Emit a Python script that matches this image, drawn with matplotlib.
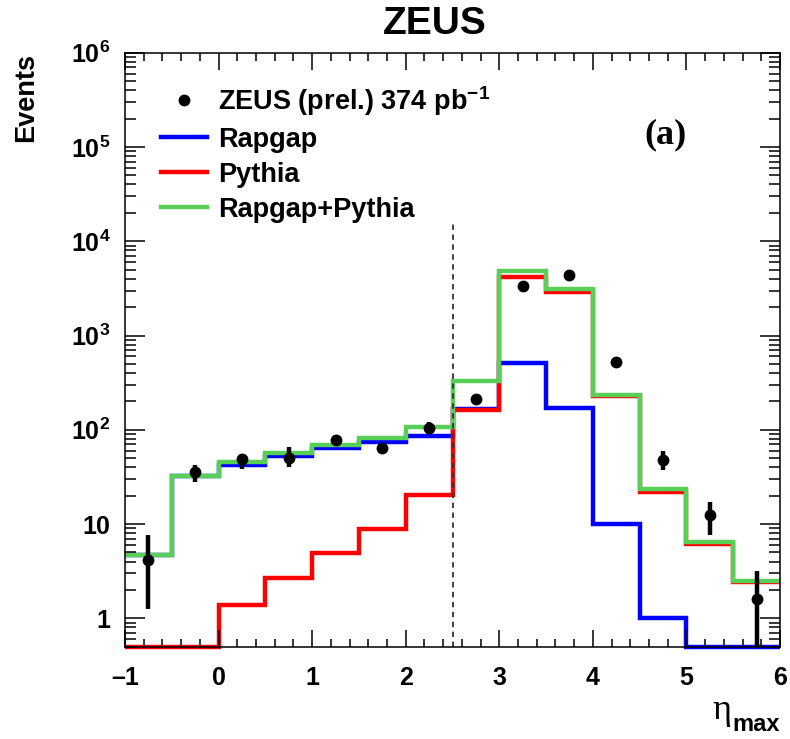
import numpy as np
import matplotlib
matplotlib.use("Agg")
import matplotlib.pyplot as plt
from matplotlib.lines import Line2D
from matplotlib.ticker import FixedLocator, LogLocator, FuncFormatter, NullFormatter

plt.rcParams['font.family'] = ['Liberation Sans', 'DejaVu Sans']
plt.rcParams['font.weight'] = 'bold'
plt.rcParams['mathtext.fontset'] = 'custom'
plt.rcParams['mathtext.rm'] = 'Liberation Sans:bold'
plt.rcParams['mathtext.it'] = 'Liberation Sans:bold'
plt.rcParams['mathtext.bf'] = 'Liberation Sans:bold'
plt.rcParams['mathtext.default'] = 'rm'

# eta_max binning
bin_edges = [-1.0, -0.5, 0.0, 0.5, 1.0, 1.5, 2.0, 2.5, 3.0, 3.5, 4.0, 4.5, 5.0, 5.5, 6.0]

# MC predictions (events per bin)
rapgap = [4.7, 32, 42.5, 53, 64, 75, 85, 168, 510, 170, 9.9, 1.0, 0, 0]
pythia = [0, 0, 1.4, 2.7, 4.95, 8.9, 20.4, 163, 4200, 2920, 226, 21.7, 6.1, 2.4]
rapgap_pythia = [4.7, 32, 45, 57, 69, 82, 107, 331, 4830, 3090, 236, 23.5, 6.5, 2.5]

# ZEUS data points with error bar ends
data_x = [-0.75, -0.25, 0.25, 0.75, 1.25, 1.75, 2.25, 2.75, 3.25, 3.75, 4.25, 4.75, 5.25, 5.75]
data_y = [4.2, 36, 48.8, 50, 78, 64, 104, 212, 3350, 4380, 525, 48, 12.5, 1.6]
data_hi = [7.6, 42.5, 55, 65, 88, 72, 122, 212, 3350, 4380, 525, 59, 17.3, 3.2]
data_lo = [1.27, 28, 38, 40.7, 70, 55, 90, 212, 3350, 4380, 525, 37.5, 7.6, 0]

eta_cut = 2.5
y_min, y_max = 0.5, 1e6

fig = plt.figure(figsize=(7.9, 7.39), dpi=100)
ax = fig.add_axes([125 / 790, 1 - 646.7 / 739, 655 / 790, 594 / 739])
ax.set_yscale('log')
ax.set_xlim(-1, 6)
ax.set_ylim(y_min, y_max)

# histograms, empty bins drawn on the lower frame
lw = 3.2
ax.stairs(np.maximum(rapgap, y_min), bin_edges, baseline=None, color='#0000ff', lw=lw, clip_on=False)
ax.stairs(np.maximum(pythia, y_min), bin_edges, baseline=None, color='#ff0000', lw=lw, clip_on=False)
ax.stairs(np.maximum(rapgap_pythia, y_min), bin_edges, baseline=None, color='#58d058', lw=lw, clip_on=False)

y = np.array(data_y)
lo = np.maximum(np.array(data_lo), 0.05)
hi = np.array(data_hi)
ax.errorbar(data_x, y, yerr=[y - lo, hi - y], fmt='o', color='black', ms=7.5, elinewidth=3.2, capsize=0,
            zorder=5)

ax.vlines(eta_cut, y_min, 1.6e4, colors='#333333', linestyles=(0, (3, 2.5)), lw=1.3)

# ticks in ROOT style
ax.xaxis.set_major_locator(FixedLocator(range(-1, 7)))
ax.xaxis.set_minor_locator(FixedLocator(np.arange(-1, 6.01, 0.2)))
ax.xaxis.set_major_formatter(FuncFormatter(lambda v, p: f"{int(v)}".replace('-', '\u2013')))
ax.yaxis.set_major_locator(LogLocator(base=10, numticks=20))
ax.yaxis.set_minor_locator(LogLocator(base=10, subs=np.arange(2, 10), numticks=20))
ax.yaxis.set_minor_formatter(NullFormatter())


def ylab(v, p):
    n = int(round(np.log10(v)))
    if n == 0:
        return "1"
    if n == 1:
        return "10"
    return "$10^{%d}$" % n


ax.yaxis.set_major_formatter(FuncFormatter(ylab))
ax.tick_params(which='both', direction='in', top=True, right=True, width=1.1)
ax.tick_params(axis='x', which='major', length=12, pad=14, labelsize=18)
ax.tick_params(axis='x', which='minor', length=6)
ax.tick_params(axis='y', which='major', length=14.5, pad=10.5, labelsize=18)
ax.tick_params(axis='y', which='minor', length=8)
for s in ax.spines.values():
    s.set_linewidth(1.1)

handles = [
    Line2D([], [], ls='none', marker='o', ms=7.5, color='black'),
    Line2D([], [], color='#0000ff', lw=lw),
    Line2D([], [], color='#ff0000', lw=lw),
    Line2D([], [], color='#58d058', lw=lw),
]
labels = ['ZEUS (prel.) 374 pb$^{-1}$', 'Rapgap', 'Pythia', 'Rapgap+Pythia']
ax.legend(handles, labels, loc='upper left',
          bbox_to_anchor=((161 - 125) / 655, (646.7 - 84) / 594), frameon=False, fontsize=19.5,
          handlelength=1.7, handletextpad=0.4, labelspacing=0.33, borderpad=0, borderaxespad=0)

ax.text((665 - 125) / 655, (646.7 - 135) / 594, "(a)", transform=ax.transAxes, ha='center', va='center',
        fontsize=26, family='Liberation Serif', weight='bold')

fig.text(435 / 790, 1 - 24 / 739, "ZEUS", ha='center', va='center', fontsize=28, weight='bold')
fig.text(26 / 790, 1 - 53 / 739, "Events", rotation=90, ha='center', va='top', fontsize=19.5, weight='bold')
fig.text(731 / 790, 1 - 719 / 739, "\u03b7", ha='right', va='baseline', fontsize=26, family='Liberation Serif',
         weight='normal')
fig.text(780 / 790, 1 - 731 / 739, "max", ha='right', va='baseline', fontsize=17, weight='bold')

fig.savefig("out.png", dpi=100)
